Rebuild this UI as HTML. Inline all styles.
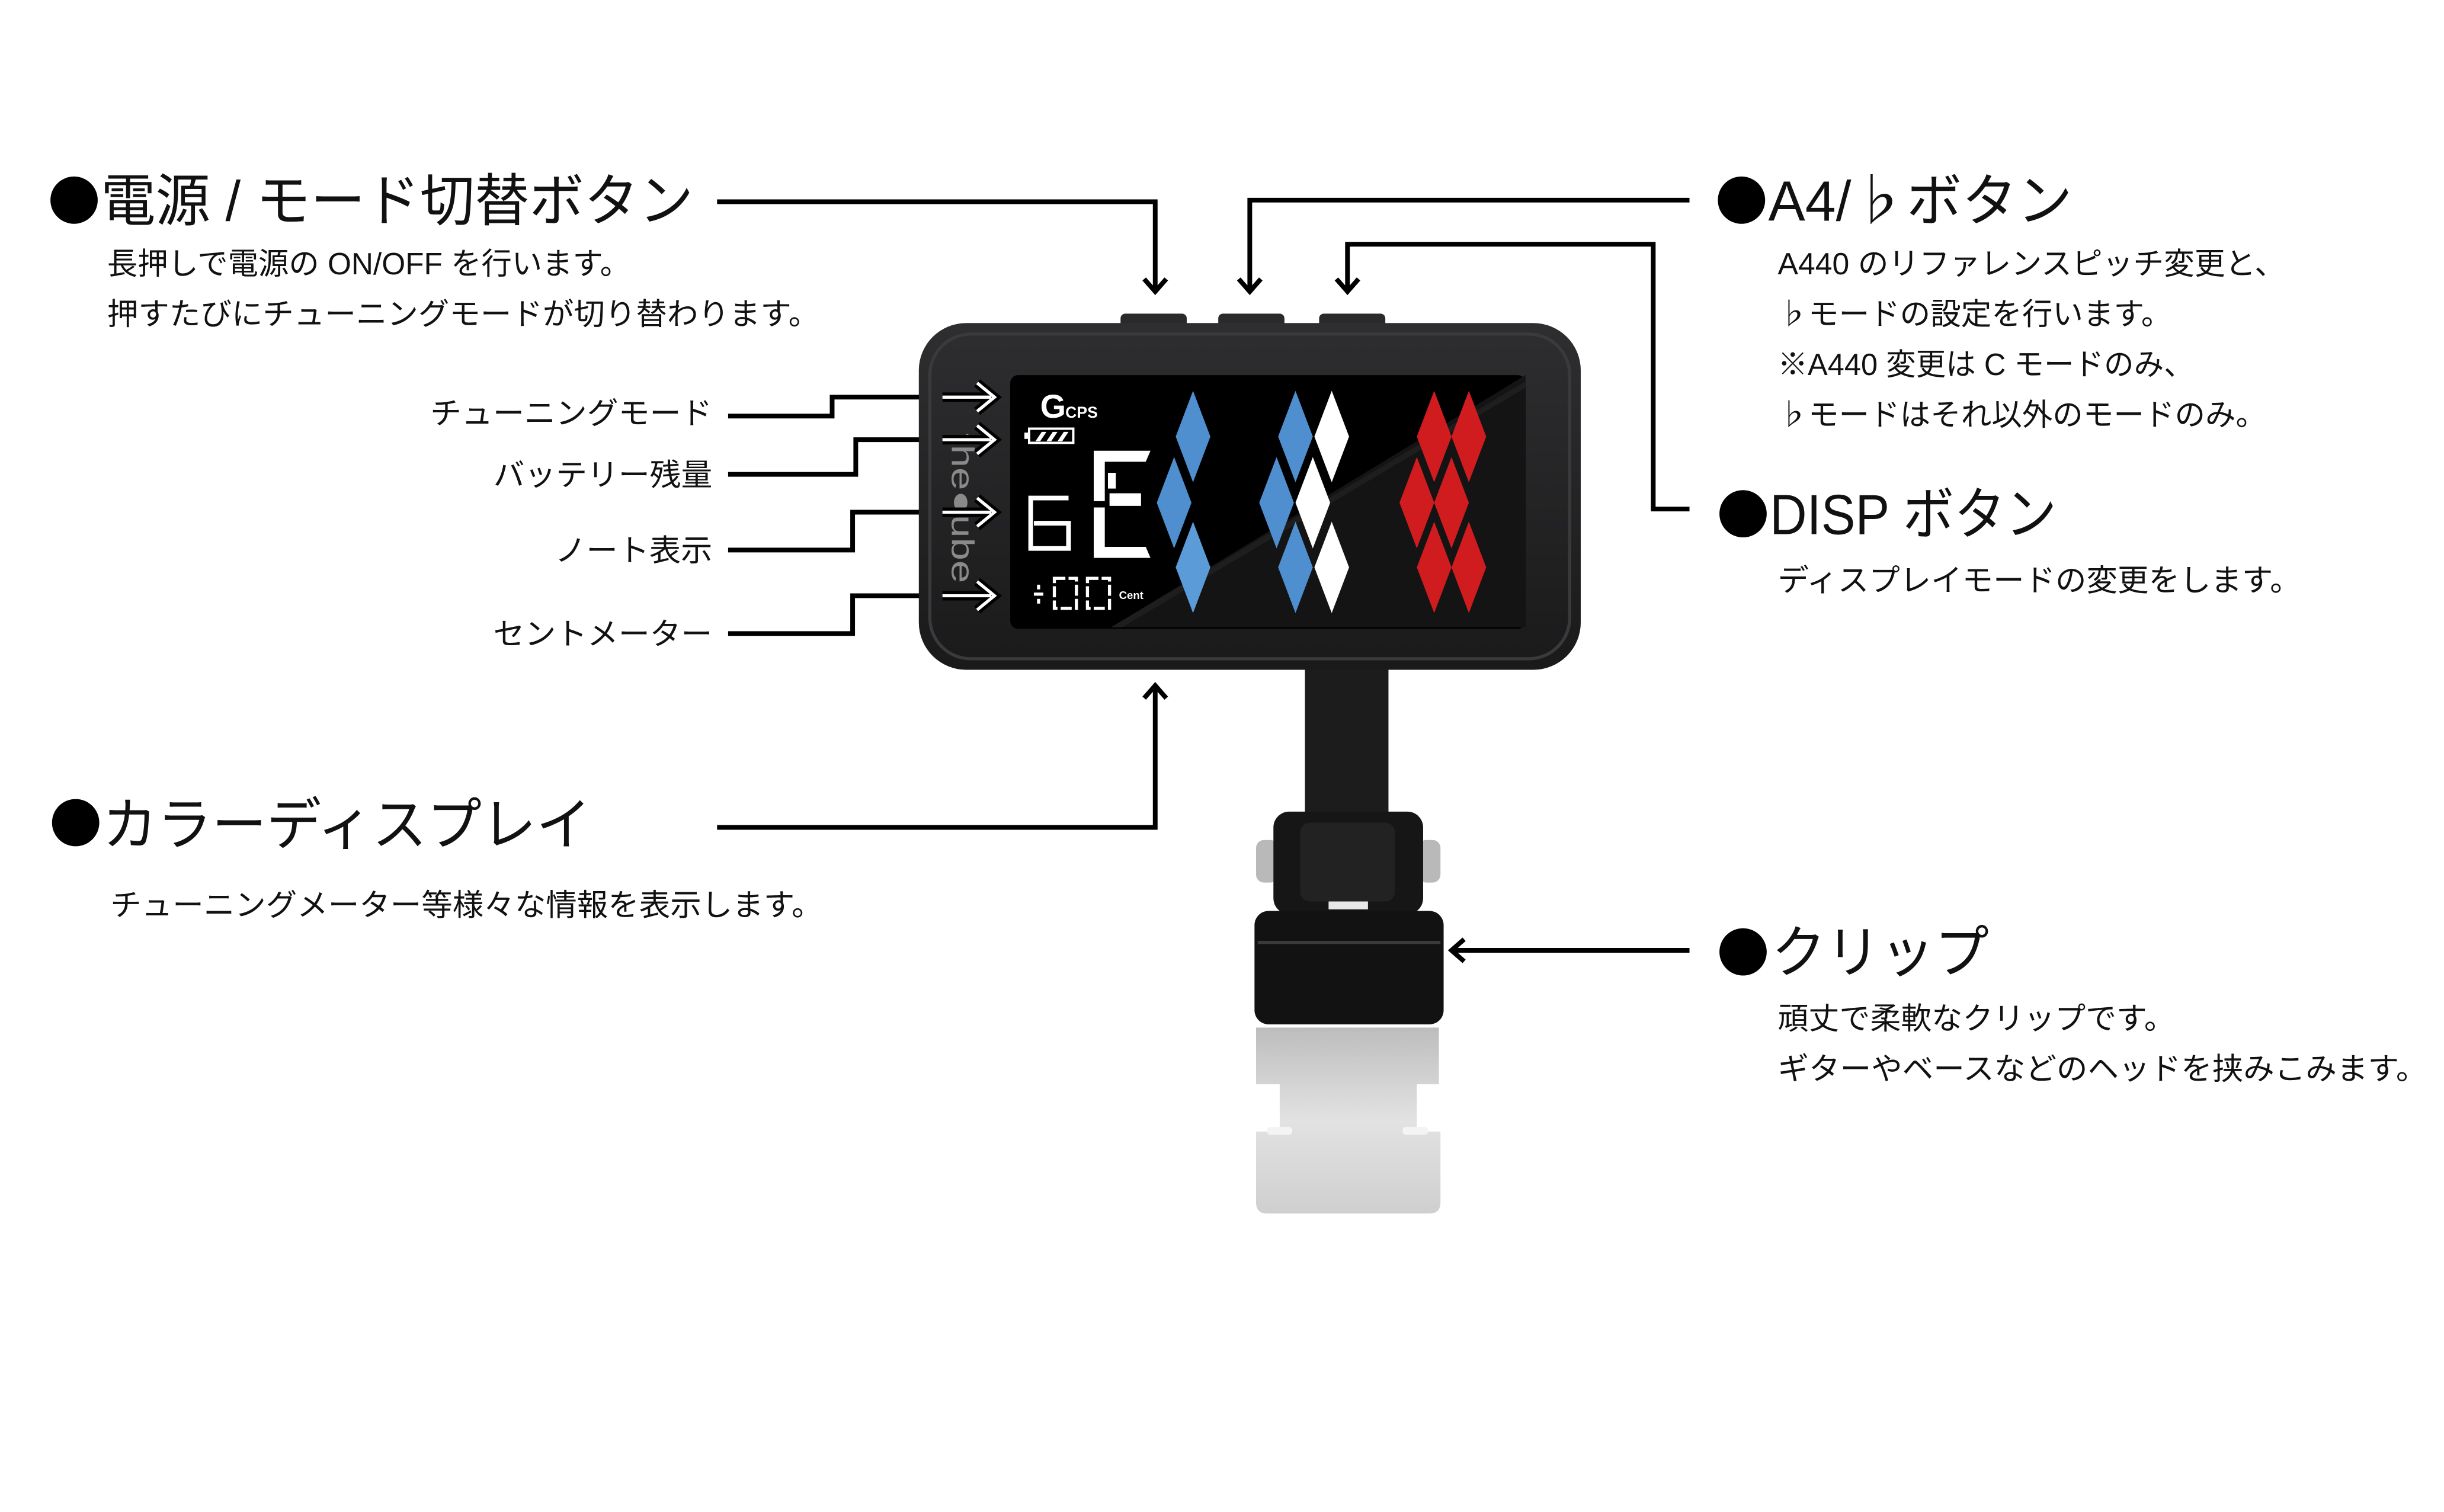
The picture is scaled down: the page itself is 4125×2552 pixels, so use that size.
<!DOCTYPE html>
<html><head><meta charset="utf-8"><style>
html,body{margin:0;padding:0;background:#fff;}
svg{display:block;}
text{font-family:"Liberation Sans","Noto Sans CJK JP",sans-serif;fill:#111;}
</style></head><body>
<svg width="4125" height="2552" viewBox="0 0 1550.75 959.4" preserveAspectRatio="none" xmlns="http://www.w3.org/2000/svg">
<defs>
<linearGradient id="silver" x1="0" y1="0" x2="0" y2="1"><stop offset="0" stop-color="#bdbdbd"/><stop offset="0.5" stop-color="#e2e2e2"/><stop offset="1" stop-color="#cfcfcf"/></linearGradient>
<linearGradient id="body" x1="0" y1="0" x2="0" y2="1"><stop offset="0" stop-color="#2e2e30"/><stop offset="1" stop-color="#1a1a1b"/></linearGradient>
</defs>
<rect width="1550.75" height="959.4" fill="#fff"/>

<!-- LEFT TEXT -->
<circle cx="47" cy="127" r="15" fill="#000"/>
<text x="64" y="140" font-size="36" textLength="376" lengthAdjust="spacingAndGlyphs">電源 / モード切替ボタン</text>
<text x="68" y="174" font-size="19.5" textLength="332" lengthAdjust="spacingAndGlyphs">長押しで電源の ON/OFF を行います。</text>
<text x="68" y="206" font-size="19.5" textLength="452" lengthAdjust="spacingAndGlyphs">押すたびにチューニングモードが切り替わります。</text>

<text x="452" y="269" font-size="19.5" text-anchor="end" textLength="179" lengthAdjust="spacingAndGlyphs">チューニングモード</text>
<text x="452" y="308" font-size="19.5" text-anchor="end" textLength="139" lengthAdjust="spacingAndGlyphs">バッテリー残量</text>
<text x="452" y="356" font-size="19.5" text-anchor="end" textLength="100" lengthAdjust="spacingAndGlyphs">ノート表示</text>
<text x="452" y="409" font-size="19.5" text-anchor="end" textLength="139" lengthAdjust="spacingAndGlyphs">セントメーター</text>

<circle cx="48" cy="522" r="15" fill="#000"/>
<text x="65" y="536" font-size="36" textLength="310" lengthAdjust="spacingAndGlyphs">カラーディスプレイ</text>
<text x="70" y="581" font-size="19.5" textLength="452" lengthAdjust="spacingAndGlyphs">チューニングメーター等様々な情報を表示します。</text>

<!-- RIGHT TEXT -->
<circle cx="1105" cy="127" r="15" fill="#000"/>
<text x="1122" y="140" font-size="36" textLength="193" lengthAdjust="spacingAndGlyphs">A4/♭ボタン</text>
<text x="1128" y="174" font-size="19.5" textLength="322" lengthAdjust="spacingAndGlyphs">A440 のリファレンスピッチ変更と、</text>
<text x="1128" y="206" font-size="19.5" textLength="250" lengthAdjust="spacingAndGlyphs">♭モードの設定を行います。</text>
<text x="1128" y="238" font-size="19.5" textLength="264" lengthAdjust="spacingAndGlyphs">※A440 変更は C モードのみ、</text>
<text x="1128" y="270" font-size="19.5" textLength="310" lengthAdjust="spacingAndGlyphs">♭モードはそれ以外のモードのみ。</text>

<circle cx="1106" cy="326" r="15" fill="#000"/>
<text x="1123" y="339" font-size="36" textLength="182" lengthAdjust="spacingAndGlyphs">DISP ボタン</text>
<text x="1128" y="375" font-size="19.5" textLength="332" lengthAdjust="spacingAndGlyphs">ディスプレイモードの変更をします。</text>

<circle cx="1106" cy="604" r="15" fill="#000"/>
<text x="1124" y="617" font-size="36" textLength="138" lengthAdjust="spacingAndGlyphs">クリップ</text>
<text x="1128" y="653" font-size="19.5" textLength="252" lengthAdjust="spacingAndGlyphs">頑丈で柔軟なクリップです。</text>
<text x="1128" y="685" font-size="19.5" textLength="412" lengthAdjust="spacingAndGlyphs">ギターやベースなどのヘッドを挟みこみます。</text>

<!-- CONNECTORS -->
<g fill="none" stroke="#000" stroke-width="3">
<polyline points="455,128 733,128 733,184"/>
<polyline points="726,177 733,185 740,177"/>
<polyline points="1072,127 793,127 793,184"/>
<polyline points="786,177 793,185 800,177"/>
<polyline points="1072,323 1049,323 1049,155 855,155 855,184"/>
<polyline points="848,177 855,185 862,177"/>
<polyline points="455,525 733,525 733,436"/>
<polyline points="726,443 733,435 740,443"/>
<polyline points="1072,603 922,603"/>
<polyline points="929,596 921,603 929,610"/>
<polyline points="462,264 528,264 528,252 600,252"/>
<polyline points="462,301 543,301 543,279 600,279"/>
<polyline points="462,349 541,349 541,325 600,325"/>
<polyline points="462,402 541,402 541,378 600,378"/>
</g>

<!-- DEVICE -->
<!-- top buttons -->
<rect x="711" y="199" width="42" height="12" rx="3" fill="#2a2a2a"/>
<rect x="773" y="199" width="42" height="12" rx="3" fill="#2a2a2a"/>
<rect x="837" y="199" width="42" height="12" rx="3" fill="#2a2a2a"/>
<!-- neck -->
<rect x="828" y="415" width="53" height="110" fill="#1c1c1c"/>
<!-- body -->
<rect x="583" y="205" width="420" height="220" rx="30" fill="url(#body)"/>
<rect x="590" y="212" width="406" height="206" rx="26" fill="none" stroke="#3a3a3c" stroke-width="2"/>
<!-- screen -->
<rect x="641" y="238" width="327" height="161" rx="5" fill="#000"/>
<polygon points="705,398 968,238 968,398" fill="#141414"/>
<polygon points="705,398 968,242 968,246 712,398" fill="#1e1e1e"/>
<!-- logo -->
<text transform="translate(604,275) rotate(90)" font-size="20" style="fill:#8a8a8a" textLength="95" lengthAdjust="spacingAndGlyphs">the●ube</text>

<!-- screen content -->
<text x="660" y="265" font-size="21" font-weight="bold" style="fill:#fff">G</text>
<text x="676" y="265" font-size="10" font-weight="bold" style="fill:#fff">CPS</text>
<rect x="653" y="272" width="28" height="9" fill="none" stroke="#fff" stroke-width="1.5"/>
<rect x="650" y="274.5" width="3" height="4" fill="#fff"/>
<path d="M657 280 l4 -6 h3 l-4 6z M664 280 l4 -6 h3 l-4 6z M671 280 l4 -6 h3 l-4 6z" fill="#fff"/>
<!-- 6 -->
<g fill="none" stroke="#fff" stroke-width="3">
<path d="M678 316 h-24 v32 h24 v-16 h-22"/>
</g>
<!-- E -->
<g fill="#fff">
<path d="M694 286 h36 l-3 7 h-26 v25 h-7z"/>
<path d="M694 322 h7 v25 h26 l3 7 h-36z"/>
<rect x="704" y="313" width="20" height="8"/>
<rect x="703" y="300" width="5" height="10"/>
</g>
<!-- ±00 Cent -->
<rect x="656" y="376" width="6" height="2" fill="#fff"/>
<rect x="658" y="371" width="2" height="3" fill="#fff"/>
<rect x="658" y="380" width="2" height="3" fill="#fff"/>
<g fill="none" stroke="#fff" stroke-width="2" stroke-dasharray="7 2">
<rect x="669" y="367" width="14" height="19"/>
<rect x="690" y="367" width="14" height="19"/>
</g>
<text x="710" y="380" font-size="7" font-weight="bold" style="fill:#fff">Cent</text>

<!-- diamonds -->
<g>
<path d="M757 248 l11 29 l-11 29 l-11 -29z" fill="#4f8fd0"/>
<path d="M745 290 l11 29 l-11 29 l-11 -29z" fill="#4f8fd0"/>
<path d="M757 331 l11 29 l-11 29 l-11 -29z" fill="#5b9bd8"/>
<path d="M822 248 l11 29 l-11 29 l-11 -29z" fill="#4f8fd0"/>
<path d="M810 290 l11 29 l-11 29 l-11 -29z" fill="#4f8fd0"/>
<path d="M822 331 l11 29 l-11 29 l-11 -29z" fill="#4f8fd0"/>
<path d="M845 248 l11 29 l-11 29 l-11 -29z" fill="#fff"/>
<path d="M833 290 l11 29 l-11 29 l-11 -29z" fill="#fff"/>
<path d="M845 331 l11 29 l-11 29 l-11 -29z" fill="#fff"/>
<path d="M910 248 l11 29 l-11 29 l-11 -29z" fill="#d01c1f"/>
<path d="M932 248 l11 29 l-11 29 l-11 -29z" fill="#d01c1f"/>
<path d="M899 290 l11 29 l-11 29 l-11 -29z" fill="#d01c1f"/>
<path d="M921 290 l11 29 l-11 29 l-11 -29z" fill="#d01c1f"/>
<path d="M910 331 l11 29 l-11 29 l-11 -29z" fill="#d01c1f"/>
<path d="M932 331 l11 29 l-11 29 l-11 -29z" fill="#d01c1f"/>
</g>

<!-- double (hollow) arrows on left -->
<g fill="none" stroke="#000" stroke-width="6" stroke-linejoin="miter">
<polyline points="598,252 630,252"/><polyline points="620,243 631,252 620,261"/>
<polyline points="598,279 630,279"/><polyline points="620,270 631,279 620,288"/>
<polyline points="598,325 630,325"/><polyline points="620,316 631,325 620,334"/>
<polyline points="598,378 630,378"/><polyline points="620,369 631,378 620,387"/>
</g>
<g fill="none" stroke="#fff" stroke-width="2">
<polyline points="598,252 629,252"/><polyline points="620,243 631,252 620,261"/>
<polyline points="598,279 629,279"/><polyline points="620,270 631,279 620,288"/>
<polyline points="598,325 629,325"/><polyline points="620,316 631,325 620,334"/>
<polyline points="598,378 629,378"/><polyline points="620,369 631,378 620,387"/>
</g>

<!-- CLIP -->
<rect x="797" y="533" width="14" height="27" rx="5" fill="#b9b9b9"/>
<rect x="900" y="533" width="14" height="27" rx="5" fill="#b9b9b9"/>
<rect x="808" y="515" width="95" height="65" rx="10" fill="#161616"/>
<rect x="825" y="522" width="60" height="50" rx="6" fill="#222"/>
<rect x="843" y="572" width="25" height="5" fill="#e8e8e8"/>
<rect x="796" y="578" width="120" height="72" rx="9" fill="#121212"/>
<line x1="798" y1="598" x2="914" y2="598" stroke="#3a3a3a" stroke-width="2"/>
<path d="M797 652 h116 v36 h-14 v30 h15 v45 q0 7 -7 7 h-103 q-7 0 -7 -7 v-45 h15 v-30 h-15z" fill="url(#silver)"/>
<rect x="804" y="715" width="16" height="5" rx="2" fill="#f4f4f4"/>
<rect x="890" y="715" width="16" height="5" rx="2" fill="#f4f4f4"/>
</svg>
</body></html>
